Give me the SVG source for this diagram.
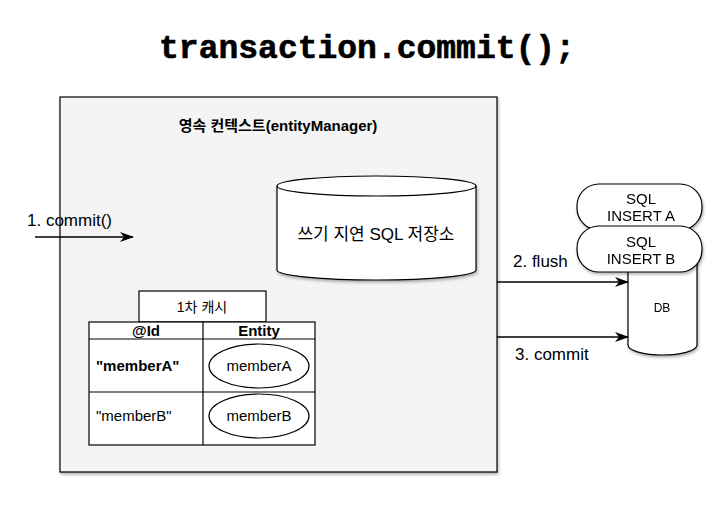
<svg xmlns="http://www.w3.org/2000/svg" width="710" height="511" viewBox="0 0 710 511">
<defs>
<filter id="sh" x="-10%" y="-10%" width="120%" height="120%">
<feDropShadow dx="1" dy="2" stdDeviation="1.5" flood-color="#000" flood-opacity="0.3"/>
</filter>
<marker id="arr" markerWidth="14" markerHeight="10" refX="13" refY="5" orient="auto" markerUnits="userSpaceOnUse">
<path d="M0,0 L14,5 L0,10 L4,5 Z" fill="#000"/>
</marker>
<style>
.t{font-family:"Liberation Sans","Noto Sans CJK KR",Arial,sans-serif;fill:#000}
.s{stroke:#000;stroke-width:1.2}
.w{fill:#fff}
.c{stroke:#000;stroke-width:1.3;fill:none}
</style>
</defs>
<rect width="710" height="511" fill="#fff"/>
<text x="367" y="58" text-anchor="middle" font-family="'Liberation Mono','Courier New',monospace" font-weight="bold" font-size="33" stroke="#000" stroke-width="0.6">transaction.commit();</text>
<g id="persistence-context">
<rect x="60" y="97" width="437" height="375" fill="#f4f4f4" class="s" filter="url(#sh)"/>
<text class="t" x="278" y="131" text-anchor="middle" font-size="15" font-weight="bold">영속 컨텍스트(entityManager)</text>
</g>
<g id="write-behind-store" filter="url(#sh)">
<path d="M277,186 L277,270 A99.5,10 0 0 0 476,270 L476,186 A99.5,10 0 0 0 277,186 Z" class="w s"/>
<path d="M277,186 A99.5,10 0 0 0 476,186" fill="none" class="s"/>
</g>
<text class="t" x="376" y="240" text-anchor="middle" font-size="17">쓰기 지연 SQL 저장소</text>
<g id="first-level-cache">
<rect x="139" y="291" width="127" height="31" class="w s"/>
<text class="t" x="202" y="312" text-anchor="middle" font-size="14">1차 캐시</text>
<rect x="89" y="322" width="226" height="123" class="w s"/>
<line x1="89" y1="339" x2="315" y2="339" class="s"/>
<line x1="89" y1="392" x2="315" y2="392" class="s"/>
<line x1="203" y1="322" x2="203" y2="445" class="s"/>
<text class="t" x="146" y="336" text-anchor="middle" font-size="15" font-weight="bold">@Id</text>
<text class="t" x="259" y="336" text-anchor="middle" font-size="15" font-weight="bold">Entity</text>
<text class="t" x="96" y="371" font-size="15" font-weight="bold">"memberA"</text>
<text class="t" x="96" y="421" font-size="15">"memberB"</text>
</g>
<g id="entity-memberA">
<ellipse cx="259" cy="366" rx="50" ry="22" class="w s"/>
<text class="t" x="259" y="371" text-anchor="middle" font-size="15">memberA</text>
</g>
<g id="entity-memberB">
<ellipse cx="259" cy="416" rx="50" ry="22" class="w s"/>
<text class="t" x="259" y="421" text-anchor="middle" font-size="15">memberB</text>
</g>
<g id="db" filter="url(#sh)">
<path d="M628,240 L628,345 A34.5,10 0 0 0 697,345 L697,240 Z" class="w s"/>
<text class="t" x="662" y="312" text-anchor="middle" font-size="12">DB</text>
</g>
<g id="sql-insert-a" filter="url(#sh)">
<rect x="577" y="184" width="125" height="46" rx="22" ry="22" class="w s"/>
<text class="t" x="641" y="204" text-anchor="middle" font-size="15">SQL</text>
<text class="t" x="641" y="221" text-anchor="middle" font-size="15">INSERT A</text>
</g>
<g id="sql-insert-b" filter="url(#sh)">
<rect x="577" y="226" width="125" height="46" rx="22" ry="22" class="w s"/>
<text class="t" x="641" y="247" text-anchor="middle" font-size="15">SQL</text>
<text class="t" x="641" y="264" text-anchor="middle" font-size="15">INSERT B</text>
</g>
<g id="connectors">
<line x1="35" y1="237" x2="133" y2="237" class="c" marker-end="url(#arr)"/>
<line x1="497" y1="282" x2="628" y2="282" class="c" marker-end="url(#arr)"/>
<line x1="497" y1="337" x2="628" y2="337" class="c" marker-end="url(#arr)"/>
<text class="t" x="27" y="226" font-size="17">1. commit()</text>
<text class="t" x="513" y="267" font-size="17">2. flush</text>
<text class="t" x="515" y="360" font-size="17">3. commit</text>
</g>
</svg>
